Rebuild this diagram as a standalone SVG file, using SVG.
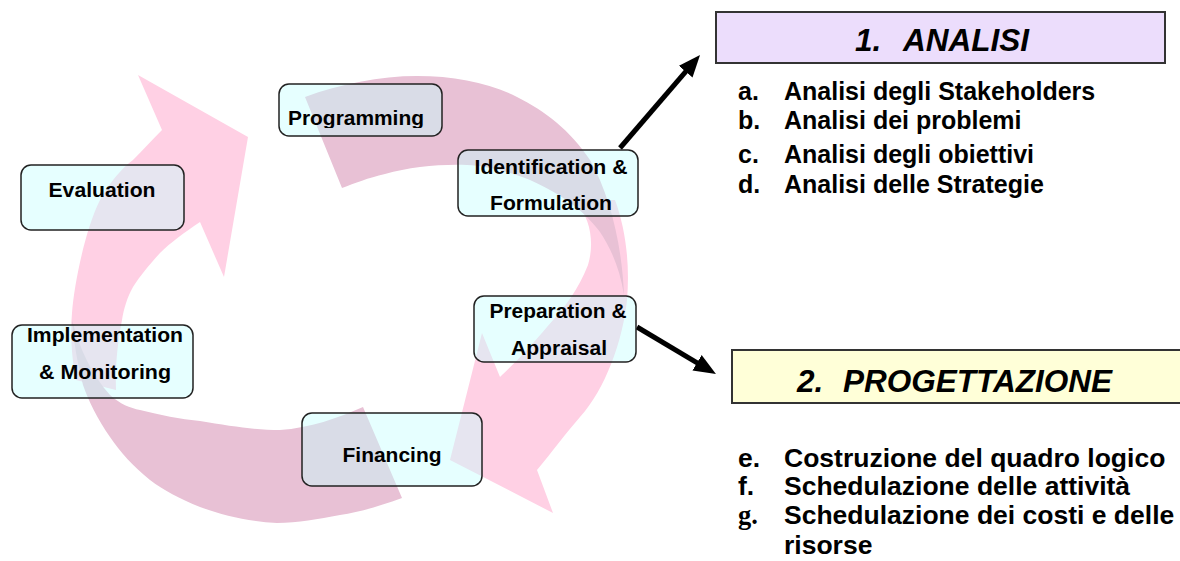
<svg xmlns="http://www.w3.org/2000/svg" width="1180" height="561" viewBox="0 0 1180 561">
  <style>
    .head { fill: #FFD0E4; }
    .tail { fill: #E8C1D5; }
    .box { fill: rgb(199,255,255); fill-opacity: 0.44; stroke: #222; stroke-width: 1.5; }
    .lbl { font-family: "Liberation Sans", Arial, sans-serif; font-weight: bold; font-size: 20px; fill: #000; text-anchor: middle; }
    .title { font-family: "Liberation Sans", Arial, sans-serif; font-weight: bold; font-style: italic; font-size: 31.5px; fill: #000; }
    .item { font-family: "Liberation Sans", Arial, sans-serif; font-weight: bold; font-size: 25px; fill: #000; }
    .item2 { font-family: "Liberation Sans", Arial, sans-serif; font-weight: bold; font-size: 26.5px; fill: #000; }
    .serif { font-family: "Liberation Serif", "Times New Roman", serif; }
    .link { stroke: #000; stroke-width: 5; fill: none; }
  </style>
  <defs>
    <marker id="tip" markerUnits="userSpaceOnUse" markerWidth="24" markerHeight="20" refX="6" refY="9" orient="auto">
      <path d="M0,0 L22,9 L0,18 z" fill="#000"/>
    </marker>
    <clipPath id="progClip">
      <rect x="279" y="84" width="163" height="44"/>
    </clipPath>
  </defs>

  <!-- cycle arrows -->
  <g id="cycle">
    <!-- right arrow, head pointing at Financing -->
    <path class="head" d="M575,200 L615,200 C626,230 630,265 627,300 C623,340 605,390 580,417 C566,433 552,452 537,470 L553,513 L450,460 L482,333 L500,377 C512,366 532,345 547,327 C566,306 578,290 588,265 C594,245 592,220 575,200 Z"/>
    <!-- right arrow, tail behind Programming -->
    <path class="tail" d="M305,97 C340,84 380,76 417,76 C455,76 490,83 517,97 C545,111 570,130 590,160 C610,195 622,245 624,295 C620,270 612,250 600,232 C585,212 565,196 530,180 C505,170 485,166 467,165 C440,164 410,167 385,174 C368,178 355,183 342,188 Z"/>
    <!-- left arrow, head pointing at Programming -->
    <path class="head" d="M76,380 C72,360 70,335 72,313 C74,285 85,230 100,200 C110,182 122,168 133,160 C143,150 152,140 162,130 L138,75 L248,137 L224,277 L200,222 C185,232 170,243 160,253 C150,264 140,276 133,287 C127,298 124,308 122,320 C118,340 115,365 116,390 Z"/>
    <!-- left arrow, tail behind Financing -->
    <path class="tail" d="M363,407 L402,498 C380,506 360,512 340,515 C318,519 298,523 277,523 C250,522 222,515 200,507 C180,499 163,490 150,480 C133,466 120,452 110,437 C98,420 88,400 83,385 C78,365 74,345 72,320 C80,350 92,375 110,395 C120,404 130,408 140,410 C160,415 180,419 200,421 C230,426 255,430 280,430 C310,428 338,418 363,407 Z"/>
  </g>

  <!-- connectors -->
  <g id="connectors">
    <line class="link" x1="620" y1="148" x2="689.6" y2="67.1" marker-end="url(#tip)"/>
    <line class="link" x1="637" y1="327" x2="702.2" y2="365.8" marker-end="url(#tip)"/>
  </g>

  <!-- cycle stages -->
  <g id="programming">
    <rect class="box" x="279" y="84" width="163" height="52" rx="10"/>
    <text class="lbl" x="356" y="125" textLength="136" lengthAdjust="spacingAndGlyphs" clip-path="url(#progClip)">Programming</text>
  </g>
  <g id="identification">
    <rect class="box" x="458" y="150" width="180" height="66" rx="10"/>
    <text class="lbl" x="551" y="174" textLength="153" lengthAdjust="spacingAndGlyphs">Identification &amp;</text>
    <text class="lbl" x="551" y="210" textLength="122" lengthAdjust="spacingAndGlyphs">Formulation</text>
  </g>
  <g id="evaluation">
    <rect class="box" x="21" y="165" width="163" height="65" rx="10"/>
    <text class="lbl" x="102" y="197" textLength="107" lengthAdjust="spacingAndGlyphs">Evaluation</text>
  </g>
  <g id="implementation">
    <rect class="box" x="12" y="325" width="181" height="73" rx="10"/>
    <text class="lbl" x="105" y="342" textLength="156" lengthAdjust="spacingAndGlyphs">Implementation</text>
    <text class="lbl" x="105" y="379" textLength="132" lengthAdjust="spacingAndGlyphs">&amp; Monitoring</text>
  </g>
  <g id="financing">
    <rect class="box" x="302" y="413" width="180" height="73" rx="10"/>
    <text class="lbl" x="392" y="462" textLength="99" lengthAdjust="spacingAndGlyphs">Financing</text>
  </g>
  <g id="preparation">
    <rect class="box" x="474" y="296" width="162" height="66" rx="10"/>
    <text class="lbl" x="558" y="318" textLength="137" lengthAdjust="spacingAndGlyphs">Preparation &amp;</text>
    <text class="lbl" x="559" y="355" textLength="96" lengthAdjust="spacingAndGlyphs">Appraisal</text>
  </g>

  <!-- phase 1 -->
  <g id="analisi">
    <rect x="716" y="12" width="449" height="51" fill="#ECDDFC" stroke="#333" stroke-width="2"/>
    <text class="title" y="51"><tspan x="855">1.</tspan><tspan x="903">ANALISI</tspan></text>
    <text class="item" y="100"><tspan x="738">a.</tspan><tspan x="784">Analisi degli Stakeholders</tspan></text>
    <text class="item" y="129"><tspan x="738">b.</tspan><tspan x="784">Analisi dei problemi</tspan></text>
    <text class="item" y="163"><tspan x="738">c.</tspan><tspan x="784">Analisi degli obiettivi</tspan></text>
    <text class="item" y="193"><tspan x="738">d.</tspan><tspan x="784">Analisi delle Strategie</tspan></text>
  </g>

  <!-- phase 2 -->
  <g id="progettazione">
    <rect x="732" y="350" width="452" height="53" fill="#FFFFD8" stroke="#333" stroke-width="2"/>
    <text class="title" y="392"><tspan x="797">2.</tspan><tspan x="843">PROGETTAZIONE</tspan></text>
    <text class="item2" y="467"><tspan x="738">e.</tspan><tspan x="784">Costruzione del quadro logico</tspan></text>
    <text class="item2" y="495"><tspan x="738">f.</tspan><tspan x="784">Schedulazione delle attività</tspan></text>
    <text class="item2" y="524"><tspan x="738" class="serif">g.</tspan><tspan x="784">Schedulazione dei costi e delle</tspan></text>
    <text class="item2" y="554"><tspan x="784">risorse</tspan></text>
  </g>
</svg>
